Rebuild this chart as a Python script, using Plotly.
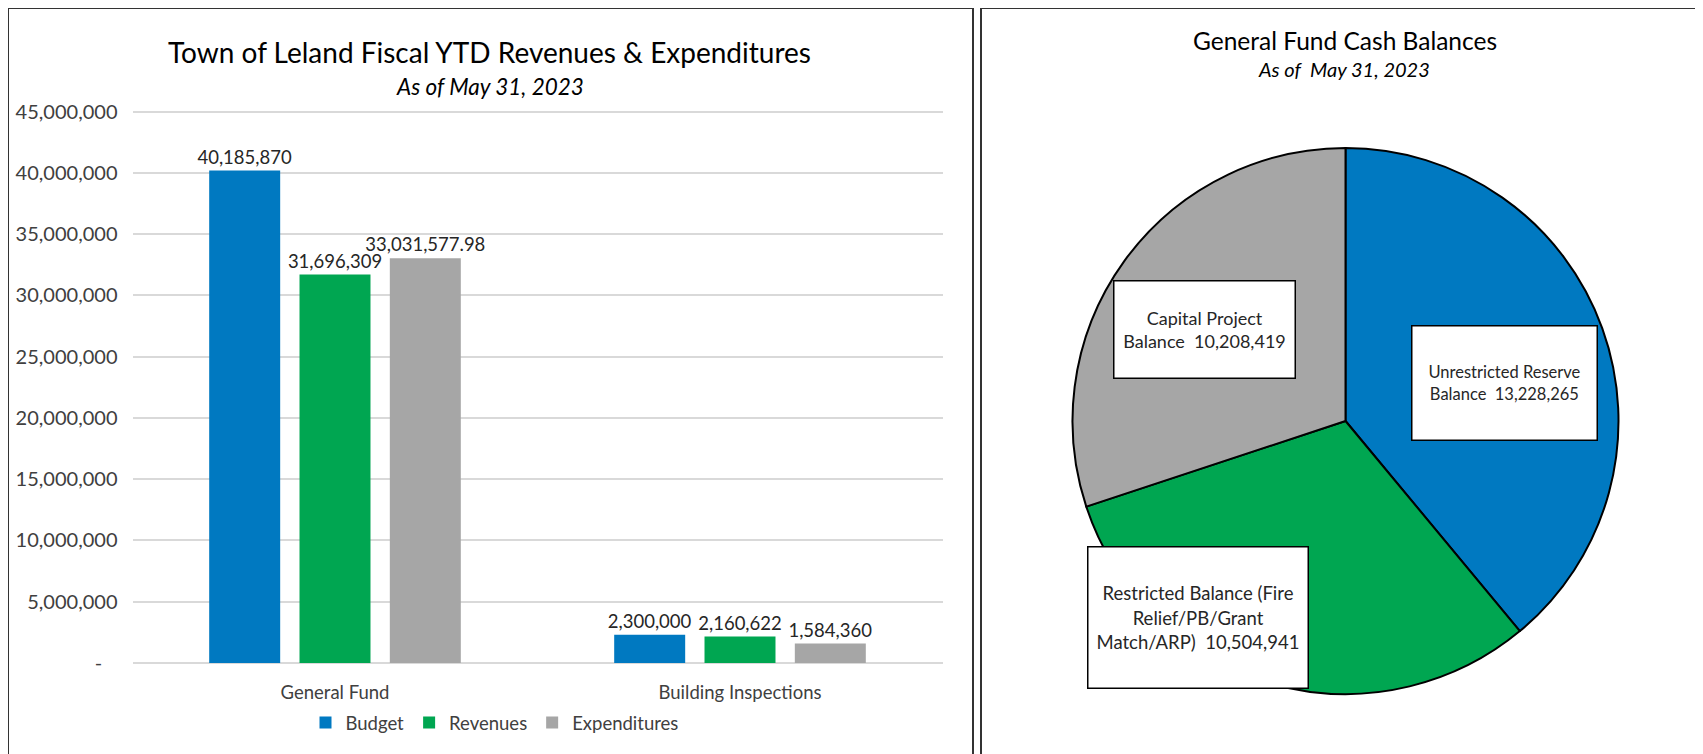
import plotly.graph_objects as go

# ---------------- data ----------------
categories = ["General Fund", "Building Inspections"]
series_names = ["Budget", "Revenues", "Expenditures"]
budget = [40185870, 2300000]
revenues = [31696309, 2160622]
expenditures = [33031577.98, 1584360]
bar_colors = ["#0079C1", "#00A651", "#A6A6A6"]

y_tickvals = [0, 5000000, 10000000, 15000000, 20000000, 25000000, 30000000, 35000000, 40000000, 45000000]
y_ticktext = ["-\u00a0\u00a0\u00a0", "5,000,000", "10,000,000", "15,000,000", "20,000,000",
              "25,000,000", "30,000,000", "35,000,000", "40,000,000", "45,000,000"]

pie_labels = ["Unrestricted Reserve Balance",
              "Restricted Balance (Fire Relief/PB/Grant Match/ARP)",
              "Capital Project Balance"]
pie_label_lines = ["Unrestricted Reserve<br>Balance",
                   "Restricted Balance (Fire<br>Relief/PB/Grant<br>Match/ARP)",
                   "Capital Project<br>Balance"]
pie_values = [13228265, 10504941, 10208419]
pie_colors = ["#0079C1", "#00A651", "#A6A6A6"]

left_title = "Town of Leland Fiscal YTD Revenues & Expenditures"
left_subtitle = "As of May 31, 2023"
right_title = "General Fund Cash Balances"
right_subtitle = "As of\u00a0 May 31, 2023"

W, H = 1703, 754
OX, OY = 8, 8  # page body offset
FONT = "Lato"
TXT = "#404040"

# y axis pixel geometry: value 0 at y=663, 45,000,000 at y=111.5 ; small padding so edge gridlines draw
Y0_PX, Y45_PX = 663.0, 111.5
PAD = 300000
ppm = (Y0_PX - Y45_PX) / 45000000.0
Y_BOTTOM = Y0_PX + PAD * ppm
Y_TOP = Y45_PX - PAD * ppm


def px(x):
    return (x - OX) / W


def py(y):
    return 1 - (y - OY) / H


def fmt(v):
    return f"{v:,}"


fig = go.Figure()

for name, vals, col in zip(series_names, [budget, revenues, expenditures], bar_colors):
    fig.add_trace(go.Bar(
        x=categories, y=vals, name=name,
        marker=dict(color=col, line=dict(width=0)),
        text=[fmt(v) for v in vals],
        textposition="outside",
        constraintext="none",
        cliponaxis=False,
        textfont=dict(family=FONT, size=18.5, color="#262626"),
        xaxis="x", yaxis="y",
    ))

fig.add_trace(go.Pie(
    labels=pie_labels, values=pie_values,
    sort=False, direction="clockwise", rotation=0,
    marker=dict(colors=pie_colors, line=dict(color="#000000", width=2)),
    textinfo="none", showlegend=False,
    domain=dict(x=[px(1072.5), px(1618.5)], y=[py(694), py(148)]),
))

# box annotations for pie: (center x, center y, width, height, font size)
box_geom = [
    (1504, 382.5, 184, 113, 16.5),
    (1198, 617, 219, 140, 18.5),
    (1204, 329, 180, 96, 18),
]
annotations = []
for lines, v, (cx, cy, bw, bh, fs) in zip(pie_label_lines, pie_values, box_geom):
    annotations.append(dict(
        text=f"{lines}\u00a0 {fmt(v)}", xref="paper", yref="paper",
        x=px(cx), y=py(cy), xanchor="center", yanchor="middle",
        showarrow=False, width=bw, height=bh, align="center", valign="middle",
        bgcolor="#FFFFFF", bordercolor="#000000", borderwidth=1.5, borderpad=0,
        font=dict(family=FONT, size=fs, color="#262626"),
    ))

annotations += [
    dict(text=left_title, xref="paper", yref="paper", x=px(489), y=py(52),
         xanchor="center", yanchor="middle", showarrow=False,
         font=dict(family=FONT, size=28, color="#000000")),
    dict(text=f"<i>{left_subtitle}</i>", xref="paper", yref="paper", x=px(490), y=py(87),
         xanchor="center", yanchor="middle", showarrow=False,
         font=dict(family=FONT, size=22.5, color="#000000")),
    dict(text=right_title, xref="paper", yref="paper", x=px(1345), y=py(41),
         xanchor="center", yanchor="middle", showarrow=False,
         font=dict(family=FONT, size=24.5, color="#000000")),
    dict(text=f"<i>{right_subtitle}</i>", xref="paper", yref="paper", x=px(1344), y=py(68.5),
         xanchor="center", yanchor="middle", showarrow=False,
         font=dict(family=FONT, size=20, color="#000000")),
]

shapes = [
    dict(type="rect", xref="paper", yref="paper", x0=px(8), x1=px(973), y0=-0.05, y1=py(8),
         line=dict(color="#333333", width=2), fillcolor="rgba(0,0,0,0)", layer="below"),
    dict(type="rect", xref="paper", yref="paper", x0=px(981), x1=1.02, y0=-0.05, y1=py(8),
         line=dict(color="#333333", width=2), fillcolor="rgba(0,0,0,0)", layer="below"),
]

fig.update_layout(
    width=W, height=H,
    margin=dict(l=0, r=0, t=0, b=0, autoexpand=False),
    paper_bgcolor="white", plot_bgcolor="white",
    barmode="group", bargap=0.331, bargroupgap=0.214,
    font=dict(family=FONT, color=TXT),
    xaxis=dict(domain=[px(132.5), px(942.5)], showgrid=False, showline=False, zeroline=False,
               automargin=False,
               ticks="outside", ticklen=9, tickcolor="rgba(0,0,0,0)",
               tickfont=dict(family=FONT, size=18.5, color=TXT)),
    yaxis=dict(domain=[py(Y_BOTTOM), py(Y_TOP)], range=[-PAD, 45000000 + PAD],
               tickvals=y_tickvals, ticktext=y_ticktext,
               automargin=False,
               showgrid=True, gridcolor="#D9D9D9", gridwidth=1.5,
               zeroline=True, zerolinecolor="#D9D9D9", zerolinewidth=1.5, showline=False,
               ticks="outside", ticklen=10, tickcolor="rgba(0,0,0,0)",
               tickfont=dict(family=FONT, size=20, color=TXT)),
    legend=dict(orientation="h", x=px(494.5), xanchor="center", y=py(723), yanchor="middle",
                font=dict(family=FONT, size=18.5, color=TXT), itemwidth=30,
                bgcolor="rgba(0,0,0,0)"),
    annotations=annotations,
    shapes=shapes,
)

fig.write_html("out.html")
